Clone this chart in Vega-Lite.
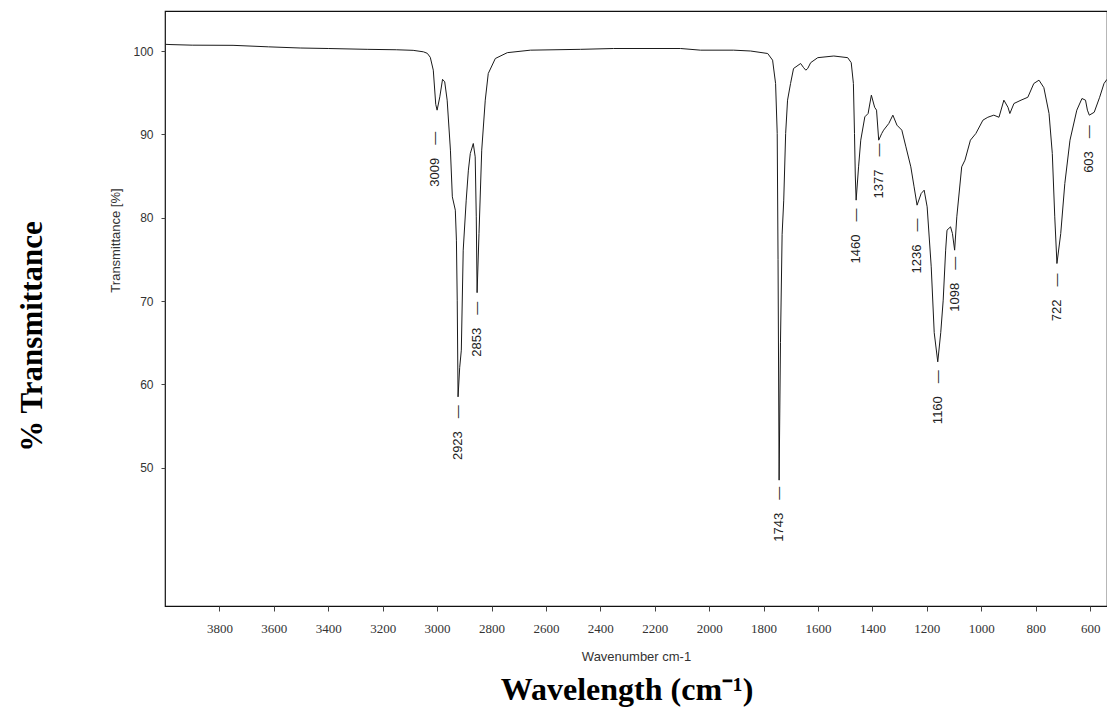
{
  "$schema": "https://vega.github.io/schema/vega-lite/v6.json",
  "width": 942,
  "height": 595,
  "autosize": {"type": "none"},
  "padding": {"left": 165, "top": 11, "right": 0, "bottom": 122},
  "background": "white",
  "config": {"view": {"stroke": "#111", "strokeWidth": 1.2}, "font": "Liberation Sans"},
  "title": {"text": "Wavelength (cm\u207B\u00B9)", "orient": "bottom", "anchor": "middle", "font": "Liberation Serif", "fontSize": 32, "fontWeight": "bold", "color": "#000", "offset": 12, "dx": -9},
  "datasets": {
    "spectrum": [
      {"wn": 3998, "t": 100.8}, {"wn": 3978, "t": 100.77}, {"wn": 3900, "t": 100.7}, {"wn": 3750, "t": 100.68},
      {"wn": 3620, "t": 100.5}, {"wn": 3503, "t": 100.36}, {"wn": 3400, "t": 100.3}, {"wn": 3257, "t": 100.2},
      {"wn": 3150, "t": 100.15}, {"wn": 3088, "t": 100.08}, {"wn": 3050, "t": 99.9}, {"wn": 3036, "t": 99.72},
      {"wn": 3025, "t": 99.24}, {"wn": 3014, "t": 97.7}, {"wn": 3005, "t": 93.6}, {"wn": 3000, "t": 92.9},
      {"wn": 2990, "t": 94.5}, {"wn": 2980, "t": 96.6}, {"wn": 2972, "t": 96.3}, {"wn": 2963, "t": 94.1},
      {"wn": 2951, "t": 88.1}, {"wn": 2944, "t": 82.5}, {"wn": 2933, "t": 80.9}, {"wn": 2929, "t": 77.3},
      {"wn": 2926, "t": 70.1}, {"wn": 2923, "t": 58.5}, {"wn": 2917, "t": 62.0}, {"wn": 2911, "t": 64.1},
      {"wn": 2904, "t": 76.1}, {"wn": 2893, "t": 82.1}, {"wn": 2885, "t": 85.7}, {"wn": 2878, "t": 87.7},
      {"wn": 2867, "t": 88.9}, {"wn": 2860, "t": 87.3}, {"wn": 2856, "t": 80.1}, {"wn": 2853, "t": 71.0},
      {"wn": 2846, "t": 78.1}, {"wn": 2836, "t": 88.1}, {"wn": 2823, "t": 94.1}, {"wn": 2812, "t": 97.3},
      {"wn": 2786, "t": 99.1}, {"wn": 2742, "t": 99.8}, {"wn": 2657, "t": 100.1}, {"wn": 2473, "t": 100.2},
      {"wn": 2352, "t": 100.3}, {"wn": 2105, "t": 100.3}, {"wn": 2032, "t": 100.1}, {"wn": 1910, "t": 100.1},
      {"wn": 1848, "t": 100.0}, {"wn": 1785, "t": 99.7}, {"wn": 1767, "t": 98.9}, {"wn": 1756, "t": 96.1},
      {"wn": 1750, "t": 90.1}, {"wn": 1747, "t": 75.0}, {"wn": 1743, "t": 48.5}, {"wn": 1738, "t": 65.0},
      {"wn": 1732, "t": 78.0}, {"wn": 1726, "t": 82.1}, {"wn": 1719, "t": 90.1}, {"wn": 1712, "t": 94.1},
      {"wn": 1701, "t": 96.1}, {"wn": 1690, "t": 97.9}, {"wn": 1664, "t": 98.5}, {"wn": 1653, "t": 98.0},
      {"wn": 1645, "t": 97.7}, {"wn": 1638, "t": 97.9}, {"wn": 1627, "t": 98.6}, {"wn": 1601, "t": 99.2},
      {"wn": 1542, "t": 99.4}, {"wn": 1491, "t": 99.2}, {"wn": 1478, "t": 98.6}, {"wn": 1470, "t": 96.1},
      {"wn": 1466, "t": 90.1}, {"wn": 1463, "t": 85.0}, {"wn": 1460, "t": 82.1}, {"wn": 1451, "t": 86.1},
      {"wn": 1443, "t": 89.3}, {"wn": 1428, "t": 92.1}, {"wn": 1416, "t": 92.5}, {"wn": 1404, "t": 94.7},
      {"wn": 1392, "t": 93.25}, {"wn": 1385, "t": 92.9}, {"wn": 1377, "t": 89.3}, {"wn": 1366, "t": 90.1},
      {"wn": 1359, "t": 90.5}, {"wn": 1340, "t": 91.3}, {"wn": 1325, "t": 92.3}, {"wn": 1310, "t": 91.1},
      {"wn": 1292, "t": 90.5}, {"wn": 1277, "t": 88.5}, {"wn": 1259, "t": 86.1}, {"wn": 1247, "t": 83.7},
      {"wn": 1236, "t": 81.5}, {"wn": 1221, "t": 82.9}, {"wn": 1210, "t": 83.3}, {"wn": 1199, "t": 81.3},
      {"wn": 1184, "t": 74.1}, {"wn": 1173, "t": 66.2}, {"wn": 1160, "t": 62.7}, {"wn": 1149, "t": 66.2},
      {"wn": 1140, "t": 70.1}, {"wn": 1131, "t": 76.1}, {"wn": 1126, "t": 78.5}, {"wn": 1113, "t": 78.9},
      {"wn": 1106, "t": 78.1}, {"wn": 1098, "t": 76.1}, {"wn": 1090, "t": 80.1}, {"wn": 1072, "t": 86.1},
      {"wn": 1060, "t": 86.9}, {"wn": 1040, "t": 89.3}, {"wn": 1020, "t": 90.1}, {"wn": 994, "t": 91.7},
      {"wn": 976, "t": 92.05}, {"wn": 954, "t": 92.3}, {"wn": 935, "t": 92.05}, {"wn": 917, "t": 94.1},
      {"wn": 902, "t": 93.25}, {"wn": 895, "t": 92.5}, {"wn": 880, "t": 93.7}, {"wn": 854, "t": 94.1},
      {"wn": 829, "t": 94.45}, {"wn": 807, "t": 96.1}, {"wn": 788, "t": 96.5}, {"wn": 770, "t": 95.6},
      {"wn": 751, "t": 92.5}, {"wn": 739, "t": 87.7}, {"wn": 730, "t": 80.1}, {"wn": 722, "t": 74.5},
      {"wn": 708, "t": 78.1}, {"wn": 693, "t": 84.1}, {"wn": 674, "t": 89.3}, {"wn": 649, "t": 92.9},
      {"wn": 630, "t": 94.3}, {"wn": 617, "t": 94.1}, {"wn": 610, "t": 92.9}, {"wn": 603, "t": 92.3},
      {"wn": 585, "t": 92.65}, {"wn": 565, "t": 94.45}, {"wn": 549, "t": 96.1}, {"wn": 538, "t": 96.6}
    ],
    "peaks": [
      {"wn": 3009, "t": 90.3, "label": "3009\u2003\u2014"},
      {"wn": 2923, "t": 57.5, "label": "2923\u2003\u2014"},
      {"wn": 2853, "t": 69.9, "label": "2853\u2003\u2014"},
      {"wn": 1743, "t": 47.7, "label": "1743\u2003\u2014"},
      {"wn": 1460, "t": 81.1, "label": "1460\u2003\u2014"},
      {"wn": 1377, "t": 88.9, "label": "1377\u2003\u2014"},
      {"wn": 1236, "t": 79.9, "label": "1236\u2003\u2014"},
      {"wn": 1160, "t": 61.7, "label": "1160\u2003\u2014"},
      {"wn": 1098, "t": 75.3, "label": "1098\u2003\u2014"},
      {"wn": 722, "t": 73.3, "label": "722\u2003\u2014"},
      {"wn": 603, "t": 91.1, "label": "603\u2003\u2014"}
    ]
  },
  "layer": [
    {
      "data": {"name": "spectrum"},
      "mark": {"type": "line", "color": "#1a1a1a", "strokeWidth": 1, "clip": true},
      "encoding": {
        "x": {
          "field": "wn", "type": "quantitative", "title": "Wavenumber cm-1",
          "scale": {"domain": [538, 4000], "reverse": true, "nice": false, "zero": false},
          "axis": {"values": [600, 800, 1000, 1200, 1400, 1600, 1800, 2000, 2200, 2400, 2600, 2800, 3000, 3200, 3400, 3600, 3800],
                   "format": "d", "grid": false, "domain": false, "tickSize": 5, "tickColor": "#444", "labelPadding": 11,
                   "labelFontSize": 13, "labelColor": "#333", "labelFont": "Liberation Sans Narrow",
                   "titleFontSize": 13, "titleFontWeight": "normal", "titleColor": "#333", "titleY": 44, "titleFont": "Liberation Sans"}
        },
        "y": {
          "field": "t", "type": "quantitative", "title": "Transmittance [%]",
          "scale": {"domain": [33.4, 104.8], "nice": false, "zero": false},
          "axis": {"orient": "left", "values": [50, 60, 70, 80, 90, 100], "format": "d", "grid": false, "domain": false,
                   "tickSize": 4, "tickColor": "#444", "labelPadding": 8, "labelFontSize": 12, "labelColor": "#333",
                   "titleFontSize": 13, "titleFontWeight": "normal", "titleColor": "#333", "titleX": -43, "titleY": 229}
        }
      }
    },
    {
      "data": {"name": "peaks"},
      "mark": {"type": "text", "angle": 270, "align": "right", "baseline": "middle", "fontSize": 13, "color": "#222", "font": "Liberation Sans"},
      "encoding": {
        "x": {"field": "wn", "type": "quantitative", "title": "Wavenumber cm-1"},
        "y": {
          "field": "t", "type": "quantitative", "title": "% Transmittance",
          "axis": {"orient": "left", "labels": false, "ticks": false, "domain": false, "grid": false,
                   "titleFont": "Liberation Serif", "titleFontSize": 31, "titleFontWeight": "bold", "titleColor": "#000",
                   "titleX": -117, "titleY": 325}
        },
        "text": {"field": "label"}
      }
    }
  ],
  "resolve": {"axis": {"y": "independent"}}
}
